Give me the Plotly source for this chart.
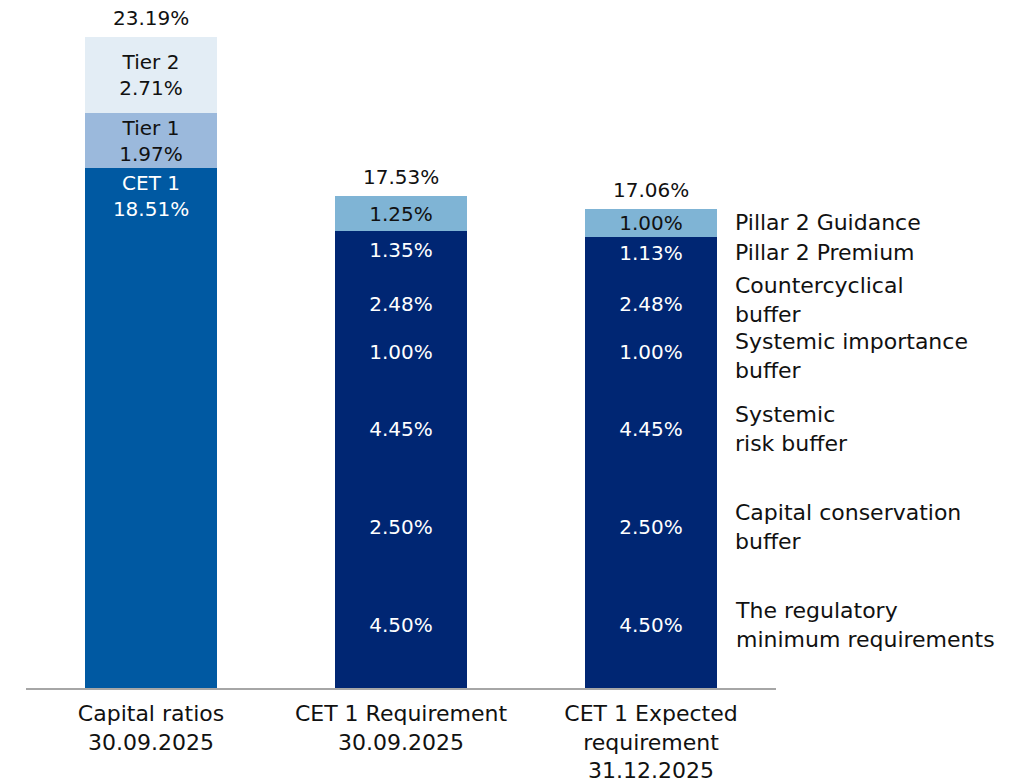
import plotly.graph_objects as go

# categories on the x axis
categories = ["Capital ratios<br>30.09.2025",
              "CET 1 Requirement<br>30.09.2025",
              "CET 1 Expected<br>requirement<br>31.12.2025"]

# capital ratios 30.09.2025
capital_names = ["CET 1", "Tier 1", "Tier 2"]
capital_values = [18.51, 1.97, 2.71]

# requirement components (bottom to top)
req_names = ["The regulatory<br>minimum requirements",
             "Capital conservation<br>buffer",
             "Systemic<br>risk buffer",
             "Systemic importance<br>buffer",
             "Countercyclical<br>buffer",
             "Pillar 2 Premium",
             "Pillar 2 Guidance"]
req_sep_2025 = [4.50, 2.50, 4.45, 1.00, 2.48, 1.35, 1.25]
req_dec_2025 = [4.50, 2.50, 4.45, 1.00, 2.48, 1.13, 1.00]

totals = [23.19, 17.53, 17.06]

FONT = "DejaVu Sans"
NAVY = "#002673"
cap_colors = ["#0059a2", "#9bb9dc", "#e3edf5"]
cap_text = ["white", "#111111", "#111111"]
req_colors = [NAVY] * 6 + ["#7fb4d5"]
req_text = ["white"] * 6 + ["#111111"]
# small nudges so the two-line labels don't collide
label_nudge = [0, 0, 0, -4, 4, 0, 0]

fig = go.Figure()

for i, (name, v) in enumerate(zip(capital_names, capital_values)):
    fig.add_trace(go.Bar(
        x=[0], y=[v], width=0.528,
        marker=dict(color=cap_colors[i], line=dict(width=0)),
        text=[f"{name}<br>{v:.2f}%"], textposition="inside",
        insidetextanchor="end" if i == 0 else "middle",
        textfont=dict(family=FONT, size=20, color=cap_text[i]),
        constraintext="none", showlegend=False, hoverinfo="skip",
    ))

for i, name in enumerate(req_names):
    vals = [req_sep_2025[i], req_dec_2025[i]]
    fig.add_trace(go.Bar(
        x=[1, 2], y=vals, width=0.528,
        marker=dict(color=req_colors[i], line=dict(width=0)),
        text=[f"{v:.2f}%" for v in vals], textposition="inside",
        insidetextanchor="middle",
        textfont=dict(family=FONT, size=20, color=req_text[i]),
        constraintext="none", showlegend=False, hoverinfo="skip",
    ))

# totals on top of the bars
for i, t in enumerate(totals):
    fig.add_annotation(x=i, y=t, text=f"{t:.2f}%", showarrow=False,
                       yanchor="bottom", yshift=5,
                       font=dict(family=FONT, size=20, color="#111111"))

# component names to the right of the last bar
cum = 0
for i, (name, v) in enumerate(zip(req_names, req_dec_2025)):
    fig.add_annotation(x=2.264, y=cum + v / 2, text=name, showarrow=False,
                       xanchor="left", xshift=16, yshift=label_nudge[i],
                       align="left",
                       font=dict(family=FONT, size=22, color="#111111"))
    cum += v

# thin beige strip at the right edge of the page
fig.add_shape(type="rect", xref="paper", yref="paper",
              x0=(1009 - 18) / 750, x1=(1017 - 18) / 750, y0=-0.14, y1=1.01,
              fillcolor="#f8f1ec", line=dict(width=0), layer="above")

fig.update_layout(
    width=1017, height=773,
    barmode="stack", bargap=0,
    margin=dict(l=18, r=249, t=6, b=93, autoexpand=False),
    plot_bgcolor="white", paper_bgcolor="white",
    font=dict(family=FONT, color="#111111"),
    xaxis=dict(range=[-0.5, 2.5], tickvals=[0, 1, 2], ticktext=categories,
               showgrid=False, zeroline=False, showline=True,
               linecolor="#a6a6a6", linewidth=1.5, ticks="",
               automargin=False, ticklabelstandoff=5,
               tickfont=dict(family=FONT, size=22, color="#111111")),
    yaxis=dict(range=[0, 24.0], visible=False, showgrid=False, zeroline=False),
)

fig.write_html("out.html")
